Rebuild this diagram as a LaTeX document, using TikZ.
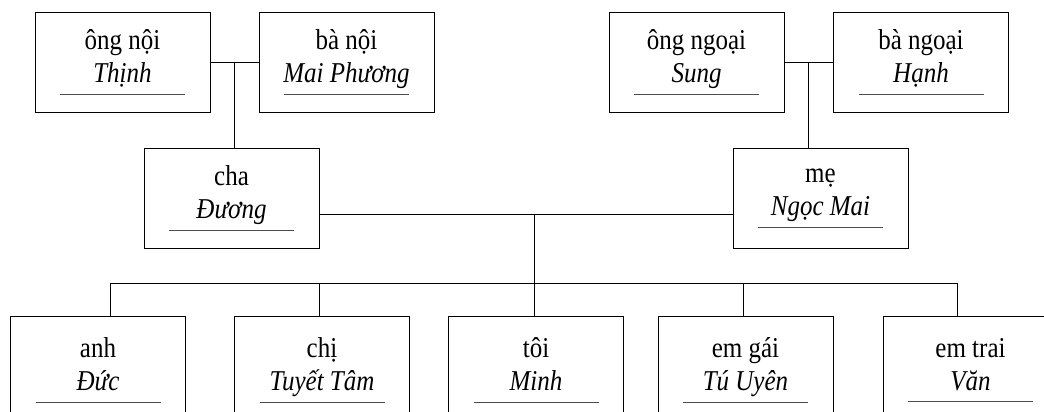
\documentclass[tikz,border=0pt]{standalone}
\usepackage{graphicx}
\usepackage{fontspec}
\setmainfont{Liberation Serif}
\usetikzlibrary{calc}

% role on top, name in italics, a rule below the name
\newcommand{\tall}[1]{\scalebox{1}[1.15]{#1}}
\newcommand{\who}[2]{\tall{#1}\\\tall{\textit{#2}}\\[-21pt]{\color{black!70}\rule{125pt}{0.7pt}}}

\begin{document}
\begin{tikzpicture}[
        x=1pt, y=-1pt,
        every node/.style={font=\fontsize{25}{33}\selectfont},
        member/.style={draw, line width=0.9pt, minimum width=175pt,
            minimum height=100pt, align=center, inner sep=0pt},
        kid/.style={member, minimum height=108pt},
        link/.style={line width=0.9pt}
    ]
    \useasboundingbox (0,0) rectangle (1044,412);

    % Grandparents
    \node[member] (ongnoi) at (122.5,62) {\who{ông nội}{Thịnh}};
    \node[member] (banoi) at (346.5,62) {\who{bà nội}{Mai Phương}};
    \node[member] (ongngoai) at (696.5,62) {\who{ông ngoại}{Sung}};
    \node[member] (bangoai) at (921,62) {\who{bà ngoại}{Hạnh}};

    % Parents
    \node[member] (cha) at (231.5,198) {\who{cha}{Đương}};
    \node[member] (me) at (820.5,198) {\who{mẹ}{Ngọc Mai}};

    % Children
    \node[kid] (anh) at (98,370) {\who{anh}{Đức}};
    \node[kid] (chi) at (322,370) {\who{chị}{Tuyết Tâm}};
    \node[kid] (toi) at (536,370) {\who{tôi}{Minh}};
    \node[kid] (emgai) at (745.5,370) {\who{em gái}{Tú Uyên}};
    \node[kid] (emtrai) at (970.5,370) {\who{em trai}{Văn}};

    % Couples
    \draw[link] (ongnoi.east) -- (banoi.west) coordinate[midway] (noi);
    \draw[link] (ongngoai.east) -- (bangoai.west) coordinate[midway] (ngoai);
    \draw[link] (noi) -- (noi |- cha.north);
    \draw[link] (ngoai) -- (ngoai |- me.north);

    \coordinate (parents) at (534,214);
    \coordinate (bus) at (534,283);
    \draw[link] (cha.east |- parents) -- (me.west |- parents);
    \draw[link] (parents) -- (bus);

    % Line down to the children
    \draw[link] (110,283) -- (957,283);
    \foreach \k/\x in {anh/110, chi/319, toi/534, emgai/743, emtrai/957}
        \draw[link] (\x,283) -- (\x,283 |- \k.north);

\end{tikzpicture}
\end{document}
